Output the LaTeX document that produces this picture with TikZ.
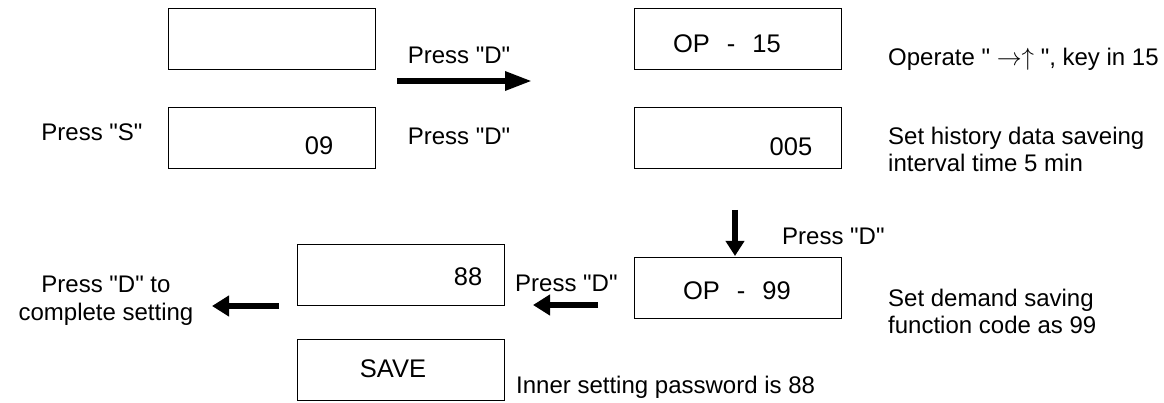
\documentclass[tikz,border=0pt]{standalone}
\usepackage{fontspec}
\setmainfont{Liberation Sans}[Ligatures=TeXOff]
\usetikzlibrary{arrows.meta}
\begin{document}
\begin{tikzpicture}[x=1pt,y=-1pt,
  font=\fontsize{24}{27}\selectfont,
  lcd/.style={draw=black,line width=1.1pt,minimum width=207pt,minimum height=61pt,inner sep=0pt,anchor=north west},
  txt/.style={inner sep=0pt,anchor=base west},
  ctxt/.style={inner sep=0pt,anchor=base},
  boxtxt/.style={inner sep=0pt,anchor=base,font=\fontsize{25.5}{28}\selectfont},
  bigarrow/.style={line width=6pt},
]
\useasboundingbox (0,0) rectangle (1164,403);
% display boxes
\node[lcd] (A) at (168,8) {};
\node[lcd] (B) at (168,107) {};
\node[lcd] (C) at (634,8) {};
\node[lcd] (D) at (634,107) {};
\node[lcd] (E) at (634,257) {};
\node[lcd] (F) at (297,244) {};
\node[lcd] (G) at (297,339) {};
% box contents
\node[boxtxt] (tB) at (319,155) {09};
\node[boxtxt] (tC) at (727,53) {OP\hspace{17pt}-\hspace{17pt}15};
\node[boxtxt] (tD) at (791,156) {005};
\node[boxtxt] (tE) at (737,299) {OP\hspace{17pt}-\hspace{17pt}99};
\node[boxtxt] (tF) at (468,285) {88};
\node[boxtxt] (tG) at (393,377) {SAVE};
% labels
\node[ctxt] (pd1) at (459,64) {Press "D"};
\node[ctxt] (ps) at (92,141) {Press "S"};
\node[ctxt] (pd2) at (459,145) {Press "D"};
\node[txt] (op) at (888,66) {Operate "\ $\rightarrow\uparrow$ ", key in 15};
\node[txt] (h1) at (888,145) {Set history data saveing};
\node[txt] (h2) at (888,172) {interval time 5 min};
\node[txt] (pd3) at (782,245) {Press "D"};
\node[txt] (pd4) at (515,291) {Press "D"};
\node[txt] (sd1) at (888,306) {Set demand saving};
\node[txt] (sd2) at (888,333) {function code as 99};
\node[ctxt] (fin1) at (106,292) {Press "D" to};
\node[ctxt] (fin2) at (106,320) {complete setting};
\node[txt] (pw) at (516,393) {Inner setting password is 88};
% arrows
\coordinate (r1s) at (397,81);
\coordinate (r1e) at (532,81);
\draw[bigarrow,-{Triangle[length=27pt,width=18pt]}] (r1s) -- (r1e);
\coordinate (dns) at (735,210);
\coordinate (dne) at (735,256);
\draw[bigarrow,-{Triangle[length=15pt,width=18pt]}] (dns) -- (dne);
\coordinate (l1s) at (598,305);
\coordinate (l1e) at (533,305);
\draw[bigarrow,-{Triangle[length=17pt,width=20pt]}] (l1s) -- (l1e);
\coordinate (l2s) at (279,306);
\coordinate (l2e) at (212,306);
\draw[bigarrow,-{Triangle[length=17pt,width=20pt]}] (l2s) -- (l2e);
\end{tikzpicture}
\end{document}
